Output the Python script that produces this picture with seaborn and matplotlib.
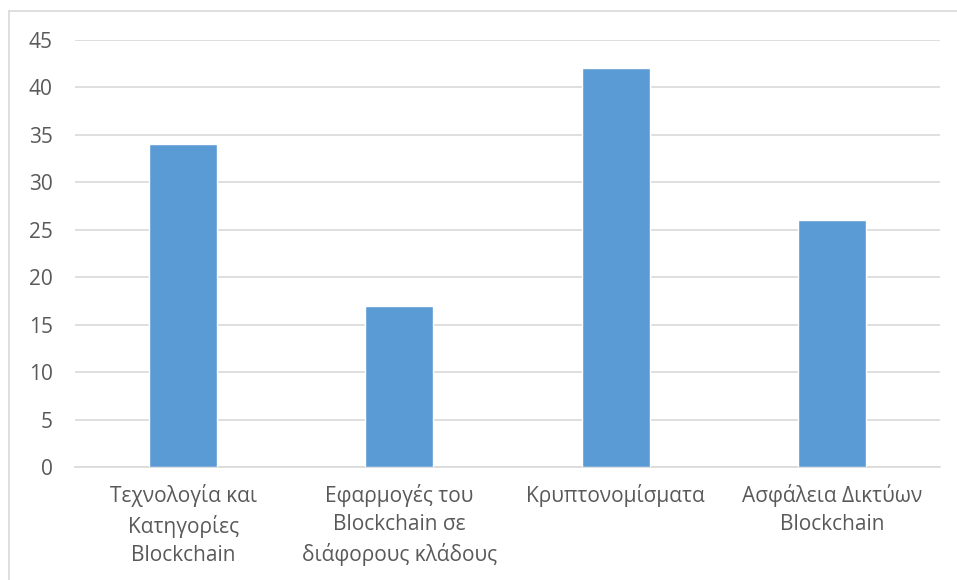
import matplotlib
matplotlib.use("Agg")
import matplotlib.pyplot as plt
import seaborn as sns
import pandas as pd
from matplotlib.lines import Line2D

categories = ["Τεχνολογία και\nΚατηγορίες\nBlockchain",
              "Εφαρμογές του\nBlockchain σε\nδιάφορους κλάδους",
              "Κρυπτονομίσματα",
              "Ασφάλεια Δικτύων\nBlockchain"]
values = [34, 17, 42, 26]
yticks = [0, 5, 10, 15, 20, 25, 30, 35, 40, 45]

df = pd.DataFrame({"cat": categories, "val": values})

sns.set_theme(style="white")
plt.rcParams['font.family'] = ['Open Sans', 'DejaVu Sans']

fig = plt.figure(figsize=(9.57, 5.8), dpi=100)
ax = fig.add_axes([75/957, 113/580, 865/957, 427/580])

sns.barplot(data=df, x="cat", y="val", color="#5B9BD5", saturation=1,
            width=0.315, ax=ax, zorder=3)

ax.set_ylim(0, 45)
ax.set_yticks(yticks)
ax.set_xlim(-0.5, 3.5)
ax.yaxis.grid(True, color="#D9D9D9", linewidth=1.2, zorder=0)
ax.set_axisbelow(True)
for s in ["top", "right", "left"]:
    ax.spines[s].set_visible(False)
ax.spines["bottom"].set_color("#D9D9D9")
ax.spines["bottom"].set_linewidth(1.2)
ax.set_xlabel("")
ax.set_ylabel("")
ax.tick_params(axis="both", length=0, labelsize=15, labelcolor="#595959")
ax.tick_params(axis="y", pad=16)
ax.tick_params(axis="x", pad=12)
for lbl in ax.get_xticklabels():
    lbl.set_linespacing(1.45)

# outer chart border (top and left visible)
fig.add_artist(Line2D([9/957, 9/957], [0, 1 - 11/580], transform=fig.transFigure,
                      color="#D9D9D9", linewidth=1.2))
fig.add_artist(Line2D([9/957, 1], [1 - 11/580, 1 - 11/580], transform=fig.transFigure,
                      color="#D9D9D9", linewidth=1.2))

fig.savefig("out.png", dpi=100, facecolor="white")
